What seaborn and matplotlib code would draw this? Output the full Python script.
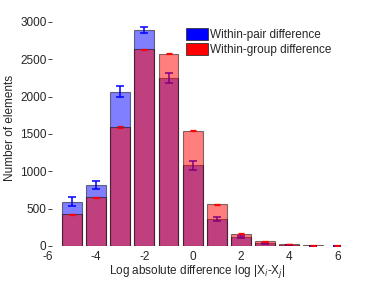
import numpy as np
import pandas as pd
import matplotlib
matplotlib.use('Agg')
import matplotlib.pyplot as plt
import seaborn as sns
from matplotlib.patches import Patch

# centres of the log-difference bins
bins = [-5, -4, -3, -2, -1, 0, 1, 2, 3, 4, 5, 6]
pair_counts = [590, 812, 2065, 2890, 2250, 1080, 360, 116, 32, 10, 3, 1]
pair_err = [60, 55, 75, 37, 70, 60, 25, 10, 4, 2, 1, 0.5]
group_counts = [425, 650, 1592, 2632, 2575, 1545, 556, 164, 62, 27, 8, 4]
group_err = [8, 8, 8, 8, 10, 6, 8, 6, 5, 4, 3, 3]

sns.set_style('white')
plt.rcParams['font.family'] = ['Liberation Sans', 'DejaVu Sans']

fig = plt.figure(figsize=(3.74, 2.81), dpi=100)
ax = fig.add_axes([0.128, 0.125, 0.80, 0.837])

df_pair = pd.DataFrame({'bin': bins, 'n': pair_counts})
df_group = pd.DataFrame({'bin': bins, 'n': group_counts})

sns.barplot(data=df_pair, x='bin', y='n', native_scale=True, color='blue',
            saturation=1, alpha=0.5, edgecolor='black', linewidth=0.8,
            width=0.82, errorbar=None, ax=ax, zorder=1)
ax.errorbar(bins, pair_counts, yerr=pair_err, fmt='none', ecolor='blue',
            elinewidth=1.1, capsize=3, capthick=1.1, zorder=1.5)
n_blue = len(ax.patches)
sns.barplot(data=df_group, x='bin', y='n', native_scale=True, color='red',
            saturation=1, alpha=0.5, edgecolor='black', linewidth=0.8,
            width=0.82, errorbar=None, ax=ax, zorder=2)
for p in ax.patches[n_blue:]:
    p.set_zorder(2)
ax.errorbar(bins, group_counts, yerr=group_err, fmt='none', ecolor='red',
            elinewidth=0.9, capsize=2.2, capthick=0.9, zorder=2.5)

ax.set_xlim(-6, 6.4)
ax.set_ylim(0, 3150)
ax.set_xticks([-6, -4, -2, 0, 2, 4, 6])
ax.set_xticklabels(['-6', '-4', '-2', '0', '2', '4', '6'])
ax.set_yticks([0, 500, 1000, 1500, 2000, 2500, 3000])
for s in ax.spines.values():
    s.set_visible(False)
ax.tick_params(axis='y', direction='in', length=3, width=0.6, pad=1,
               labelsize=8.5, left=True)
ax.tick_params(axis='x', length=0, pad=3.5, labelsize=8.5)
ax.set_xlabel(r'Log absolute difference log |X$_i$-X$_j$|', fontsize=8.5,
              labelpad=0)
ax.set_ylabel('Number of elements', fontsize=8.5, labelpad=3)

handles = [Patch(facecolor='blue', edgecolor='#333333', linewidth=0.6),
           Patch(facecolor='red', edgecolor='#333333', linewidth=0.6)]
fig.legend(handles, ['Within-pair difference', 'Within-group difference'],
           loc='upper left', bbox_to_anchor=(0.481, 0.923), frameon=False,
           fontsize=8.5, handlelength=1.9, handleheight=1.2,
           handletextpad=0.15, labelspacing=0.2, borderpad=0)

fig.savefig('out.png', dpi=100)
